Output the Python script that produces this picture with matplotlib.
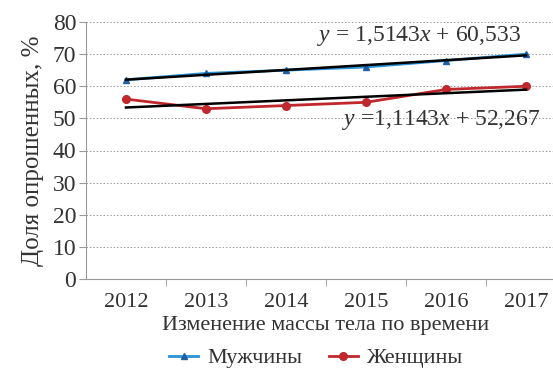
import numpy as np
import matplotlib
matplotlib.use("Agg")
import matplotlib.pyplot as plt

plt.rcParams['font.family'] = ['Liberation Serif', 'DejaVu Serif']
plt.rcParams['mathtext.fontset'] = 'custom'
plt.rcParams['mathtext.rm'] = 'Liberation Serif'
plt.rcParams['mathtext.it'] = 'Liberation Serif:italic'

years = ['2012', '2013', '2014', '2015', '2016', '2017']
men = [62, 64, 65, 66, 68, 70]
women = [56, 53, 54, 55, 59, 60]
y_ticks = [0, 10, 20, 30, 40, 50, 60, 70, 80]

txt = '#333333'
fig = plt.figure(figsize=(5.53, 3.74), dpi=100)
ax = fig.add_axes([86 / 553, 1 - 279 / 374, 480 / 553, 257 / 374])

x = np.arange(len(years))
ax.plot(x, men, color='#2a93d5', lw=2, marker='^', ms=5,
        mfc='#1f5fa8', mec='#1f5fa8', label='Мужчины', zorder=3)
ax.plot(x, women, color='#c0282d', lw=2, marker='o', ms=5.5,
        mfc='#c0282d', mec='#c0282d', label='Женщины', zorder=3)

# linear trendlines (least squares, x = 1..6 as in Excel)
xe = x + 1
for vals in (men, women):
    k, b = np.polyfit(xe, vals, 1)
    ax.plot(x, k * xe + b, color='black', lw=1.8, zorder=4)

ax.text(2.39, 75.6, r'$y$ = 1,5143$x$ + 60,533', fontsize=17, color=txt, va='center')
ax.text(2.70, 49.6, r'$y$ =1,1143$x$ + 52,267', fontsize=17, color=txt, va='center')

ax.set_xlim(-0.5, 5.5)
ax.set_ylim(0, 80)
ax.set_yticks(y_ticks)
ax.yaxis.grid(True, linestyle=(0, (1.5, 2)), color='#9a9a9a', lw=0.7)
ax.set_axisbelow(True)
ax.set_xticks(x)
ax.set_xticklabels(years)
ax.set_xticks(np.arange(0.5, 5.5, 1), minor=True)
ax.tick_params(axis='x', which='major', length=0, labelsize=16, labelcolor=txt, pad=10)
ax.tick_params(axis='x', which='minor', length=5, color='#999999', direction='out')
ax.tick_params(axis='y', length=5, color='#999999', labelsize=17, labelcolor=txt, pad=2)

for s in ['top', 'right']:
    ax.spines[s].set_visible(False)
for s in ['left', 'bottom']:
    ax.spines[s].set_color('#999999')

ax.set_xlabel('Изменение массы тела по времени', fontsize=16, color=txt, labelpad=3)
ax.set_ylabel('Доля опрошенных, %', fontsize=18, color=txt, labelpad=6)

fig.legend(loc='center', bbox_to_anchor=(316 / 553, 1 - 358 / 374), ncol=2,
           frameon=False, fontsize=16, handlelength=1.3, columnspacing=1.2,
           handletextpad=0.4, labelcolor=txt)

fig.savefig('out.png', dpi=100)
